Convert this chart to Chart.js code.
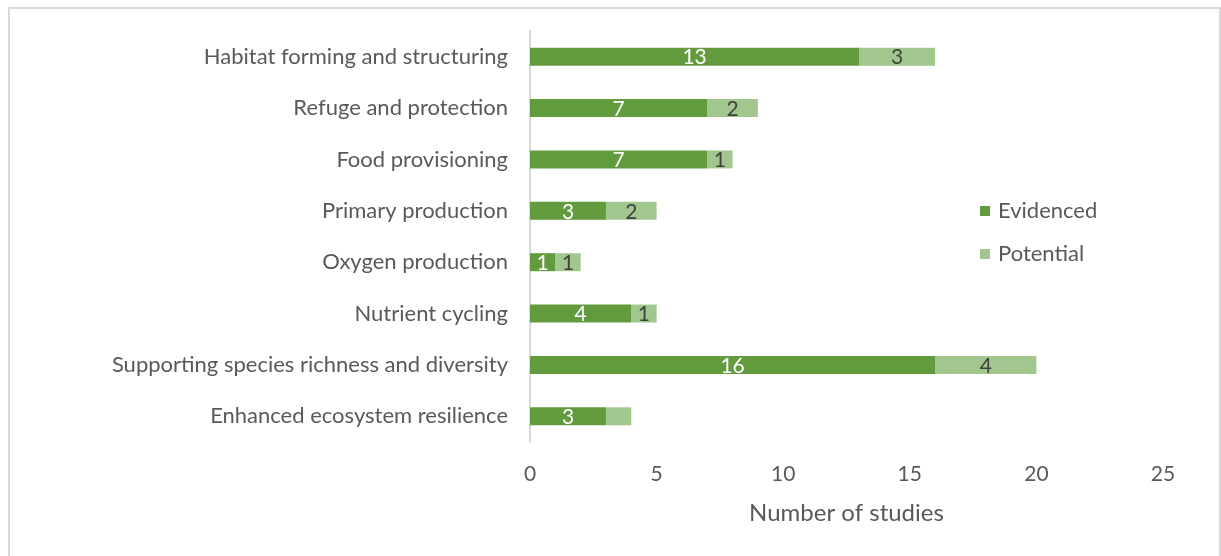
<!DOCTYPE html>
<html>
<head>
<meta charset="utf-8">
<script src="https://cdn.jsdelivr.net/npm/chart.js@4.4.0/dist/chart.umd.min.js"></script>
<style>
  html, body { margin: 0; padding: 0; background: #fff; }
  #wrap { width: 1221px; height: 556px; position: relative; }
</style>
</head>
<body>
<div id="wrap"><canvas id="services_chart"></canvas></div>
<script>
const categories = [
    'Habitat forming and structuring',
    'Refuge and protection',
    'Food provisioning',
    'Primary production',
    'Oxygen production',
    'Nutrient cycling',
    'Supporting species richness and diversity',
    'Enhanced ecosystem resilience'
];
const evidenced = [13, 7, 7, 3, 1, 4, 16, 3];
const potential = [3, 2, 1, 2, 1, 1, 4, 1];
// the last "potential" value has no label in the original figure
const hiddenPotentialLabels = [7];
const xTicks = [0, 5, 10, 15, 20, 25];

const FONT = 'Lato, "Open Sans", sans-serif';
const GREEN = '#629b3e';
const LIGHT_GREEN = '#a2c78e';

const frame = {
    id: 'frame',
    beforeDraw(chart) {
        const ctx = chart.ctx;
        ctx.save();
        ctx.fillStyle = '#fff';
        ctx.fillRect(0, 0, chart.width, chart.height);
        ctx.strokeStyle = '#d9d9d9';
        ctx.lineWidth = 2;
        ctx.strokeRect(9, 8, 1211, 600);
        ctx.restore();
    }
};

const valueLabels = {
    id: 'valueLabels',
    afterDatasetsDraw(chart) {
        const ctx = chart.ctx;
        ctx.save();
        ctx.font = '21px ' + FONT;
        ctx.textAlign = 'center';
        ctx.textBaseline = 'middle';
        chart.data.datasets.forEach((ds, i) => {
            const meta = chart.getDatasetMeta(i);
            meta.data.forEach((bar, j) => {
                if (i === 1 && hiddenPotentialLabels.includes(j)) return;
                ctx.fillStyle = i === 0 ? '#ffffff' : '#404040';
                ctx.fillText(ds.data[j], (bar.x + bar.base) / 2, bar.y + 1);
            });
        });
        ctx.restore();
    }
};

const sideLegend = {
    id: 'sideLegend',
    afterDraw(chart) {
        const ctx = chart.ctx;
        ctx.save();
        ctx.font = '22px ' + FONT;
        ctx.textBaseline = 'middle';
        chart.data.datasets.forEach((ds, i) => {
            const y = 211 + i * 43;
            ctx.fillStyle = ds.backgroundColor;
            ctx.fillRect(980, y - 5, 10, 10);
            ctx.fillStyle = '#595959';
            ctx.fillText(ds.label, 998, y);
        });
        ctx.restore();
    }
};

function draw() {
    const ctx = document.getElementById('services_chart').getContext('2d');
    new Chart(ctx, {
        type: 'bar',
        data: {
            labels: categories,
            datasets: [{
                label: 'Evidenced',
                data: evidenced,
                backgroundColor: GREEN,
                barPercentage: 0.7,
                categoryPercentage: 0.5
            }, {
                label: 'Potential',
                data: potential,
                backgroundColor: LIGHT_GREEN,
                barPercentage: 0.7,
                categoryPercentage: 0.5
            }]
        },
        options: {
            indexAxis: 'y',
            responsive: true,
            maintainAspectRatio: false,
            animation: false,
            layout: {
                padding: { top: 31, right: 58, bottom: 24, left: 0 }
            },
            plugins: {
                legend: { display: false },
                tooltip: { enabled: false }
            },
            scales: {
                x: {
                    stacked: true,
                    min: 0,
                    max: 25,
                    afterBuildTicks: s => { s.ticks = xTicks.map(v => ({ value: v })); },
                    afterFit: s => { s.height = 90; },
                    grid: { display: false },
                    border: { display: false },
                    ticks: {
                        color: '#595959',
                        font: { family: FONT, size: 21 },
                        padding: 12
                    },
                    title: {
                        display: true,
                        text: 'Number of studies',
                        color: '#595959',
                        font: { family: FONT, size: 24 },
                        padding: { top: 0, bottom: 4 }
                    }
                },
                y: {
                    stacked: true,
                    afterFit: s => {
                        s.width = 530;
                        s.paddingTop = 0;
                        s.paddingBottom = 0;
                    },
                    grid: { display: false, drawTicks: false },
                    border: { display: true, color: '#d9d9d9', width: 2 },
                    ticks: {
                        color: '#595959',
                        font: { family: FONT, size: 22 },
                        padding: 22
                    }
                }
            }
        },
        plugins: [frame, valueLabels, sideLegend]
    });
}

if (document.fonts && document.fonts.load) {
    document.fonts.load('20px Lato').then(draw, draw);
} else {
    draw();
}
</script>
</body>
</html>
